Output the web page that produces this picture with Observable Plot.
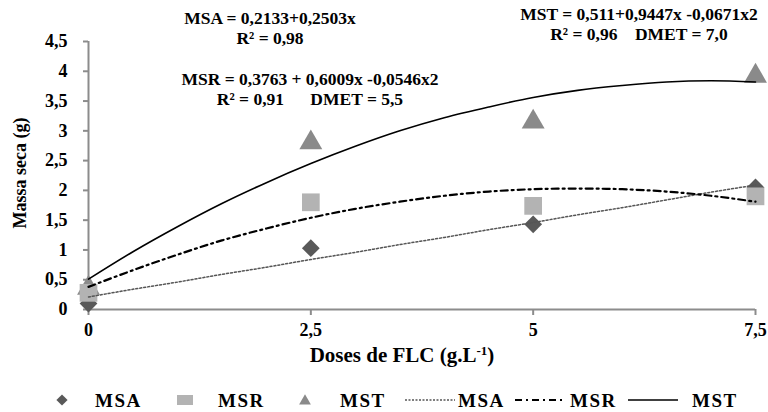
<!DOCTYPE html>
<html><head><meta charset="utf-8">
<script src="https://cdn.jsdelivr.net/npm/d3@7"></script>
<script src="https://cdn.jsdelivr.net/npm/@observablehq/plot@0.6"></script>
<style>
body{margin:0;background:#fff;}
#wrap{position:relative;width:768px;height:412px;overflow:hidden;}
#wrap svg{position:absolute;left:0;top:0;}
#wrap svg text{font-family:'Liberation Serif','DejaVu Serif','Times New Roman',serif;font-weight:bold;}
</style></head><body><div id="wrap"></div>
<script>
// Observed points
const doses = [0, 2.5, 5, 7.5];
const msa = [0.1, 1.03, 1.43, 2.05];
const msr = [0.28, 1.8, 1.74, 1.9];
const mst = [0.36, 2.8, 3.15, 3.92];
// Fitted curves
const fitDoses = [0, 0.5, 1, 1.5, 2, 2.5, 3, 3.5, 4, 4.5, 5, 5.5, 6, 6.5, 7, 7.5];
const fitMSA = [0.21, 0.34, 0.46, 0.59, 0.71, 0.84, 0.96, 1.09, 1.21, 1.34, 1.46, 1.59, 1.71, 1.84, 1.97, 2.09];
const fitMSR = [0.38, 0.66, 0.92, 1.16, 1.36, 1.54, 1.69, 1.81, 1.91, 1.98, 2.02, 2.03, 2.02, 1.98, 1.91, 1.81];
const fitMST = [0.51, 0.97, 1.39, 1.78, 2.13, 2.45, 2.74, 3.00, 3.22, 3.40, 3.56, 3.68, 3.76, 3.82, 3.84, 3.82];
// Ticks
const xTicks = [0, 2.5, 5, 7.5];
const yTicks = [0, 0.5, 1, 1.5, 2, 2.5, 3, 3.5, 4, 4.5];
// Text
const xTitle = "Doses de FLC (g.L";
const yTitle = "Massa seca (g)";
const equations = [
  ["MSA = 0,2133+0,2503x", "R² = 0,98"],
  ["MSR = 0,3763 + 0,6009x -0,0546x2", "R² = 0,91      DMET = 5,5"],
  ["MST = 0,511+0,9447x -0,0671x2", "R² = 0,96    DMET = 7,0"]
];
const seriesNames = ["MSA", "MSR", "MST"];

const FONT = "'Liberation Serif', 'DejaVu Serif', 'Times New Roman', serif";
const colDia = "#595959", colSq = "#b3b3b3", colTri = "#8a8a8a", axisGray = "#8c8c8c";
const fmt = d => String(d).replace(".", ",");

const pts = a => doses.map((x, i) => ({x, y: a[i]}));
const fit = a => fitDoses.map((x, i) => ({x, y: a[i]}));

const plot = Plot.plot({
  width: 768, height: 412,
  marginTop: 41, marginBottom: 103, marginLeft: 88, marginRight: 13,
  style: `font-family: ${FONT}; font-size: 18px; font-weight: bold; color: #000; background: transparent; overflow: visible;`,
  x: {domain: [0, 7.5]},
  y: {domain: [0, 4.5]},
  marks: [
    Plot.axisY({ticks: yTicks, tickSize: 5, tickPadding: 16, tickFormat: fmt, stroke: axisGray, strokeWidth: 2, fill: "#000", label: null, fontSize: 18}),
    Plot.axisX({ticks: xTicks, tickSize: 6, tickPadding: 8, tickFormat: fmt, stroke: axisGray, strokeWidth: 2, fill: "#000", label: null, fontSize: 18}),
    Plot.ruleY([0], {stroke: axisGray, strokeWidth: 2}),
    Plot.ruleX([0], {stroke: axisGray, strokeWidth: 2}),
    Plot.dot(pts(msa), {x: "x", y: "y", symbol: "diamond2", r: 8, fill: colDia, stroke: null}),
    Plot.dot(pts(mst), {x: "x", y: "y", symbol: "triangle", r: 8.5, fill: colTri, stroke: null}),
    Plot.dot(pts(msr), {x: "x", y: "y", symbol: "square", r: 10, fill: colSq, stroke: null}),
    Plot.line(fit(fitMSA), {x: "x", y: "y", curve: "catmull-rom", stroke: "#555", strokeWidth: 1.5, strokeDasharray: "2,2"}),
    Plot.line(fit(fitMSR), {x: "x", y: "y", curve: "catmull-rom", stroke: "#000", strokeWidth: 2.2, strokeDasharray: "7,4,2,4"}),
    Plot.line(fit(fitMST), {x: "x", y: "y", curve: "catmull-rom", stroke: "#000", strokeWidth: 1.6})
  ]
});
document.getElementById("wrap").appendChild(plot);

// Overlay: titles, equations, legend
const svg = d3.select("#wrap").append("svg").attr("width", 768).attr("height", 412);

// Axis titles
const xt = svg.append("text").attr("x", 402).attr("y", 362).attr("text-anchor", "middle").attr("font-size", 21).text(xTitle);
xt.append("tspan").attr("dy", -7).attr("font-size", 13).text("-1");
xt.append("tspan").attr("dy", 7).text(")");
svg.append("text").attr("transform", "translate(26,173) rotate(-90)").attr("text-anchor", "middle").attr("font-size", 18).text(yTitle);

// Equations
const eqPos = [[270, 24, 44], [310, 85, 105], [639, 20, 40]];
equations.forEach((e, i) => {
  const [cx, y1, y2] = eqPos[i];
  svg.append("text").attr("x", cx).attr("y", y1).attr("text-anchor", "middle").attr("font-size", 17.5).style("white-space", "pre").text(e[0]);
  svg.append("text").attr("x", cx).attr("y", y2).attr("text-anchor", "middle").attr("font-size", 17.5).style("white-space", "pre").text(e[1]);
});

// Legend
const ly = 400;
const lg = svg.append("g");
lg.append("path").attr("d", d3.symbol(d3.symbolDiamond2, 80)()).attr("transform", `translate(62,${ly})`).attr("fill", colDia);
lg.append("rect").attr("x", 177).attr("y", ly - 5).attr("width", 16).attr("height", 10).attr("fill", colSq);
lg.append("path").attr("d", d3.symbol(d3.symbolTriangle, 60)()).attr("transform", `translate(305,${ly + 1})`).attr("fill", colTri);
lg.append("line").attr("x1", 405).attr("x2", 455).attr("y1", ly).attr("y2", ly).attr("stroke", "#555").attr("stroke-width", 1.5).attr("stroke-dasharray", "2,1.5");
lg.append("line").attr("x1", 515).attr("x2", 565).attr("y1", ly).attr("y2", ly).attr("stroke", "#000").attr("stroke-width", 2).attr("stroke-dasharray", "7,4,2,4");
lg.append("line").attr("x1", 628).attr("x2", 678).attr("y1", ly).attr("y2", ly).attr("stroke", "#000").attr("stroke-width", 1.5);
const labX = [95, 218, 340, 458, 570, 692];
labX.forEach((x, i) => {
  lg.append("text").attr("x", x).attr("y", ly + 7).attr("font-size", 19).attr("letter-spacing", 1.5).text(seriesNames[i % 3]);
});
</script></body></html>
